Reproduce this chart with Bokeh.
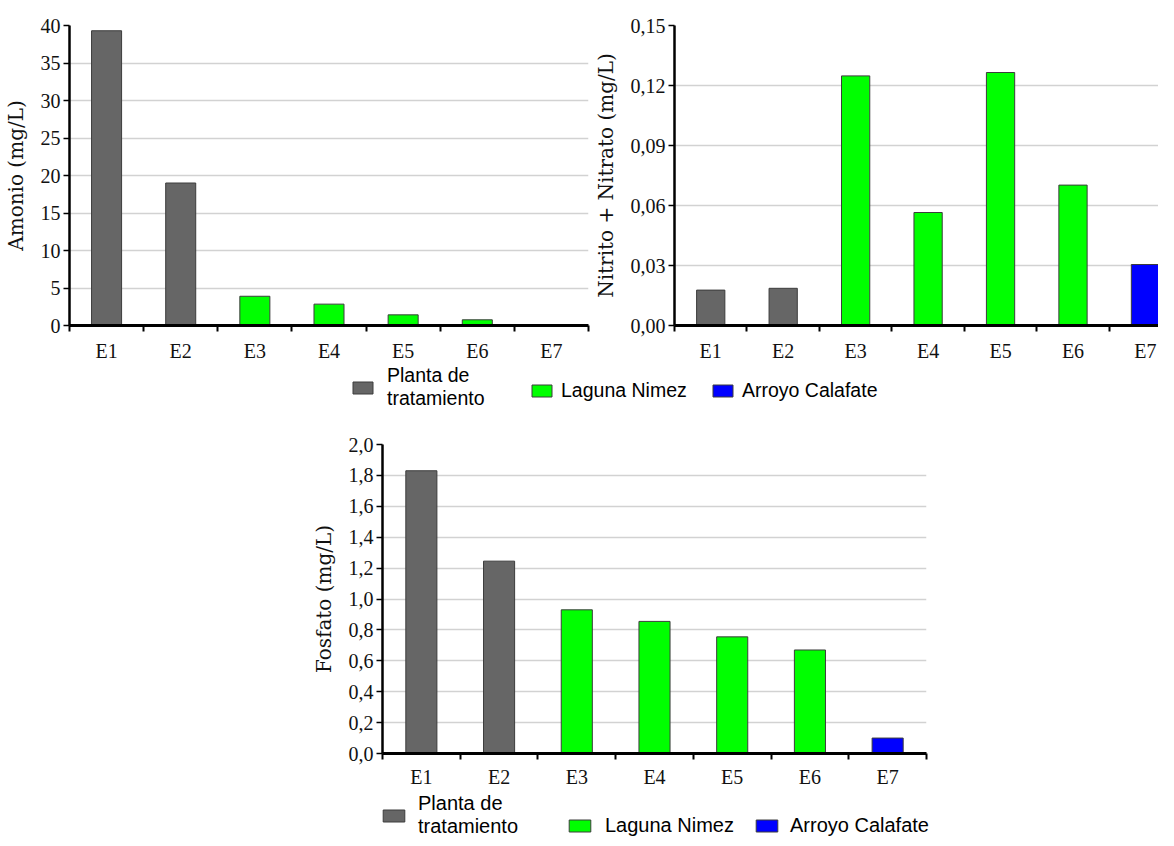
from bokeh.plotting import figure
from bokeh.models import Range1d, FixedTicker, ColumnDataSource, Legend, LegendItem, Spacer
from bokeh.layouts import column, row
from bokeh.embed import file_html
from bokeh.resources import INLINE

# ---------------- data ----------------
stations = ["E1", "E2", "E3", "E4", "E5", "E6", "E7"]
station_group = ["Planta", "Planta", "Laguna", "Laguna", "Laguna", "Laguna", "Arroyo"]
group_keys = ["Planta", "Laguna", "Arroyo"]
group_labels = ["Planta de\ntratamiento", "Laguna Nimez", "Arroyo Calafate"]
group_colors = ["#666666", "#00ff00", "#0000ff"]

amonio = [39.3, 19.0, 3.9, 2.85, 1.42, 0.76, 0.0]
nitrito_nitrato = [0.0177, 0.0186, 0.1248, 0.0565, 0.1265, 0.0702, 0.0305]
fosfato = [1.83, 1.245, 0.93, 0.855, 0.755, 0.67, 0.10]

amonio_ticks = [0, 5, 10, 15, 20, 25, 30, 35, 40]
nn_ticks = [0.0, 0.03, 0.06, 0.09, 0.12, 0.15]
fos_ticks = [0.0, 0.2, 0.4, 0.6, 0.8, 1.0, 1.2, 1.4, 1.6, 1.8, 2.0]

amonio_title = "Amonio (mg/L)"
nn_title = "Nitrito + Nitrato (mg/L)"
fos_title = "Fosfato (mg/L)"

color_of = dict(zip(group_keys, group_colors))
EDGE = "#3c3c3c"
TICK_FONT = "Liberation Serif"
LABEL_FONT = "DejaVu Serif"


def fmt_tick(t, decimals):
    if decimals == 0:
        return str(int(t))
    return f"{t:.{decimals}f}".replace(".", ",")


def panel(values, ticks, decimals, title, width, height, b_left, b_right, b_top, b_bottom,
          x_end, bar_w, x_standoff):
    xs = [i + 0.5 for i in range(len(stations))]
    src = ColumnDataSource(dict(x=xs, top=values,
                                color=[color_of[g] for g in station_group],
                                station=stations))
    p = figure(width=width, height=height, x_range=Range1d(0, x_end),
               y_range=Range1d(ticks[0], ticks[-1]), output_backend="svg",
               toolbar_location=None, min_border_left=b_left, min_border_right=b_right,
               min_border_top=b_top, min_border_bottom=b_bottom)
    p.vbar(x="x", top="top", width=bar_w, fill_color="color", line_color=EDGE,
           line_width=1, source=src)
    p.outline_line_color = None
    p.xgrid.visible = False
    p.ygrid.ticker = FixedTicker(ticks=ticks)
    p.ygrid.grid_line_color = "#d2d2d2"
    p.ygrid.grid_line_width = 1.5

    xa = p.xaxis[0]
    xa.ticker = FixedTicker(ticks=xs, minor_ticks=list(range(len(stations) + 1)))
    xa.major_label_overrides = {x: s for x, s in zip(xs, stations)}
    xa.major_tick_in = 0
    xa.major_tick_out = 0
    xa.minor_tick_in = 0
    xa.minor_tick_out = 6
    xa.minor_tick_line_color = "black"
    xa.minor_tick_line_width = 2
    xa.axis_line_color = "black"
    xa.axis_line_width = 3
    xa.major_label_text_font = TICK_FONT
    xa.major_label_text_font_size = "20px"
    xa.major_label_text_color = "#111111"
    xa.major_label_standoff = x_standoff

    ya = p.yaxis[0]
    ya.ticker = FixedTicker(ticks=ticks)
    ya.major_label_overrides = {t: fmt_tick(t, decimals) for t in ticks}
    ya.major_tick_in = 0
    ya.major_tick_out = 6
    ya.major_tick_line_color = "black"
    ya.major_tick_line_width = 1.5
    ya.minor_tick_out = 0
    ya.axis_line_color = "black"
    ya.axis_line_width = 2.5
    ya.major_label_text_font = TICK_FONT
    ya.major_label_text_font_size = "20px"
    ya.major_label_text_color = "#111111"
    ya.major_label_standoff = 3
    ya.axis_label = title
    ya.axis_label_text_font = LABEL_FONT
    ya.axis_label_text_font_size = "20px"
    ya.axis_label_text_font_style = "normal"
    ya.axis_label_text_color = "#111111"
    ya.axis_label_standoff = 10
    return p


def legend_fig(width, height, positions, standoffs, glyph_w, font_size):
    lp = figure(width=width, height=height, x_range=Range1d(0, width),
                y_range=Range1d(0, height), output_backend="svg", toolbar_location=None,
                min_border=0)
    lp.axis.visible = False
    lp.grid.visible = False
    lp.outline_line_color = None
    xs = [i + 0.5 for i in range(len(stations))]
    for key, lab, col, loc, so in zip(group_keys, group_labels, group_colors,
                                      positions, standoffs):
        gx = [x for x, g in zip(xs, station_group) if g == key]
        r = lp.vbar(x=gx, top=[1] * len(gx), width=0.4, fill_color=col,
                    line_color=EDGE, line_width=1)
        r.visible = False
        leg = Legend(items=[LegendItem(label=lab, renderers=[r])], location=loc,
                     orientation="horizontal", padding=0, margin=0, spacing=0,
                     border_line_alpha=0, background_fill_alpha=0,
                     inactive_fill_alpha=0,
                     glyph_width=glyph_w, glyph_height=15, label_standoff=so,
                     label_text_font="Liberation Sans", label_text_font_size=font_size,
                     label_text_color="#000000")
        lp.add_layout(leg, "center")
    return lp


p1 = panel(amonio, amonio_ticks, 0, amonio_title, 590, 364, 63, 2, 25, 38, 7, 0.405, 8)
p2 = panel(nitrito_nitrato, nn_ticks, 2, nn_title, 568, 364, 83, 0, 25, 38, 6.68, 0.39, 8)
leg1 = legend_fig(1158, 50, [(350, 4), (529, 12), (710, 12)], [12, 7, 7], 25, "19.5px")
p3 = panel(fosfato, fos_ticks, 1, fos_title, 639, 376, 90, 5, 30, 35, 7, 0.4, 6)
leg3 = legend_fig(1158, 48, [(380, 0), (566, 1), (753, 1)], [11, 12, 10], 27, "20px")

layout = column(row(p1, p2), leg1, row(Spacer(width=292, height=376), p3), leg3)

open("out.html", "w").write(file_html(layout, INLINE))
